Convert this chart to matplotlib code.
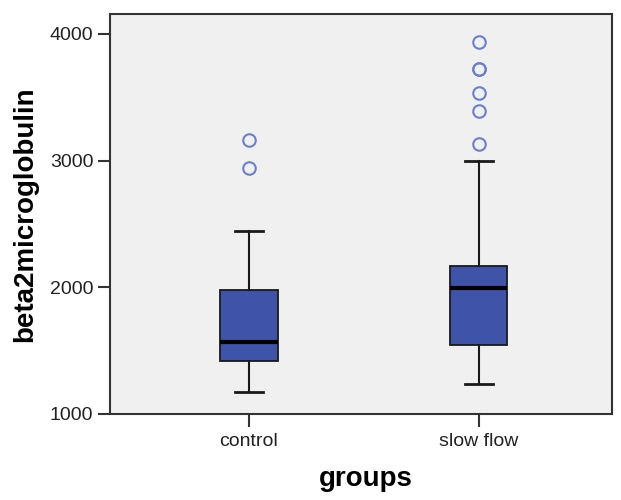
import matplotlib
matplotlib.use("Agg")
import matplotlib.pyplot as plt

plt.rcParams['font.family'] = ['Liberation Sans', 'DejaVu Sans']

groups = ["control", "slow flow"]
whisker_low = [1176, 1234]
q1 = [1418, 1545]
median = [1571, 1997]
q3 = [1979, 2170]
whisker_high = [2447, 2997]
outliers = [
    [2944, 3163],
    [3129, 3394, 3536, 3720, 3725, 3936],
]

stats = []
for i, g in enumerate(groups):
    stats.append({
        "label": g,
        "whislo": whisker_low[i],
        "q1": q1[i],
        "med": median[i],
        "q3": q3[i],
        "whishi": whisker_high[i],
        "fliers": outliers[i],
    })

fig = plt.figure(figsize=(6.21, 5.0), dpi=100)
ax = fig.add_axes([0.177, 0.172, 0.8085, 0.8])
ax.set_facecolor("#f0f0f0")

ax.bxp(stats, positions=[1, 2], widths=0.25, patch_artist=True,
       boxprops=dict(facecolor="#3f53a9", edgecolor="#1a1a1a", linewidth=1.3),
       medianprops=dict(color="black", linewidth=3),
       whiskerprops=dict(color="#1a1a1a", linewidth=1.5),
       capprops=dict(color="#1a1a1a", linewidth=2),
       capwidths=0.12,
       flierprops=dict(marker="o", markerfacecolor="none",
                       markeredgecolor="#6b7fd0", markersize=9,
                       markeredgewidth=1.5))

ax.set_xlim(0.395, 2.58)
ax.set_ylim(1000, 4157)
ax.set_yticks([1000, 2000, 3000, 4000])
ax.set_xticks([1, 2])
ax.set_xticklabels(groups)

for s in ax.spines.values():
    s.set_color("#333333")
    s.set_linewidth(1.5)

ax.tick_params(axis="both", direction="out", length=9, width=1.5,
               color="#333333", labelsize=14, labelcolor="#222222")
ax.tick_params(axis="y", pad=3)
ax.tick_params(axis="x", pad=5)

ax.set_ylabel("beta2microglobulin", fontsize=20, fontweight="bold", labelpad=8)
ax.set_xlabel("groups", fontsize=20, fontweight="bold")
ax.xaxis.set_label_coords(0.51, -0.13)

fig.savefig("out.png", dpi=100)
